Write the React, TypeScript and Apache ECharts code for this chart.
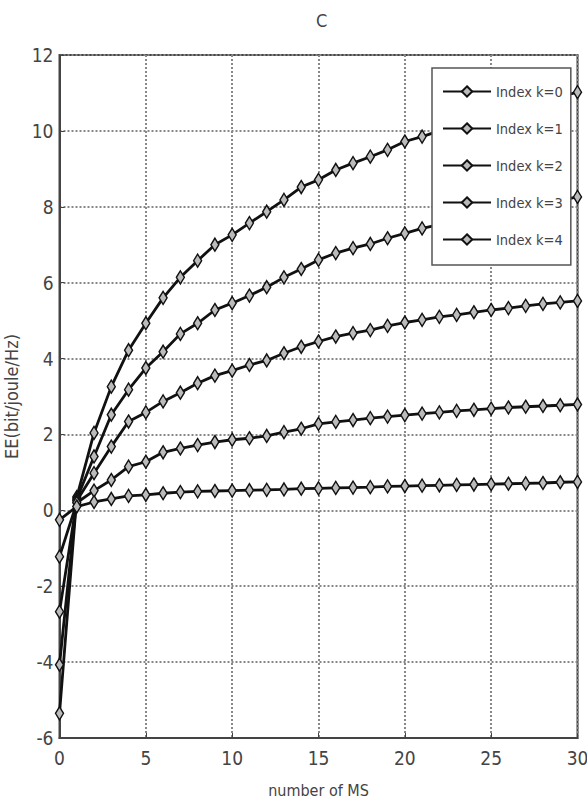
import React, { useEffect, useRef } from "react";
import * as echarts from "echarts";

const xValues = [0,1,2,3,4,5,6,7,8,9,10,11,12,13,14,15,16,17,18,19,20,21,22,23,24,25,26,27,28,29,30];
const seriesNames = ["Index k=0", "Index k=1", "Index k=2", "Index k=3", "Index k=4"];
const k0 = [-5.35,0.35,2.04,3.26,4.22,4.93,5.6,6.14,6.58,7.0,7.26,7.57,7.87,8.18,8.52,8.71,8.97,9.15,9.32,9.5,9.72,9.85,10.0,10.13,10.27,10.4,10.52,10.65,10.77,10.9,11.02];
const k1 = [-4.07,0.3,1.42,2.52,3.18,3.75,4.18,4.65,4.93,5.28,5.46,5.66,5.88,6.14,6.36,6.6,6.78,6.91,7.02,7.17,7.3,7.43,7.53,7.63,7.72,7.81,7.9,7.99,8.08,8.17,8.26];
const k2 = [-2.67,0.25,0.98,1.68,2.34,2.58,2.87,3.1,3.35,3.55,3.68,3.83,3.95,4.14,4.31,4.45,4.58,4.67,4.75,4.86,4.95,5.02,5.1,5.15,5.22,5.28,5.33,5.39,5.44,5.48,5.52];
const k3 = [-1.22,0.2,0.52,0.8,1.15,1.28,1.53,1.63,1.72,1.8,1.86,1.9,1.96,2.06,2.15,2.28,2.33,2.38,2.43,2.47,2.51,2.55,2.58,2.62,2.65,2.68,2.71,2.73,2.75,2.77,2.79];
const k4 = [-0.25,0.1,0.22,0.3,0.38,0.41,0.45,0.48,0.5,0.51,0.52,0.53,0.54,0.55,0.57,0.58,0.59,0.6,0.61,0.63,0.64,0.65,0.66,0.67,0.68,0.69,0.7,0.71,0.72,0.74,0.75];
const allSeries = [k0, k1, k2, k3, k4];

const FONT = "'Liberation Sans Narrow', 'DejaVu Sans Condensed', 'Liberation Sans', sans-serif";

export default function App() {
  const ref = useRef<HTMLDivElement>(null);
  useEffect(() => {
    if (!ref.current) return;
    const chart = echarts.init(ref.current, null, { renderer: "svg" });
    chart.setOption({
      animation: false,
      backgroundColor: "#fff",
      title: {
        text: "C",
        left: 311,
        top: 6,
        textStyle: { fontFamily: FONT, fontSize: 18, fontWeight: "normal", color: "#444" },
      },
      grid: {
        left: 59.5,
        right: 9.5,
        top: 55,
        bottom: 71,
        containLabel: false,
        outerBoundsMode: "none",
        show: true,
        borderColor: "#444",
        borderWidth: 2,
        backgroundColor: "#fff",
      },
      legend: {
        orient: "vertical",
        left: 432,
        top: 68,
        itemWidth: 48,
        itemHeight: 13,
        itemGap: 22,
        padding: [16, 8, 18, 10],
        backgroundColor: "#fff",
        borderColor: "#555",
        borderWidth: 1.5,
        borderRadius: 0,
        textStyle: { fontFamily: FONT, fontSize: 14.5, color: "#444", lineHeight: 15 },
        data: seriesNames,
        z: 10,
      },
      xAxis: {
        type: "value",
        min: 0,
        max: 30,
        interval: 5,
        name: "number of MS",
        nameLocation: "middle",
        nameGap: 44,
        nameTextStyle: { fontFamily: FONT, fontSize: 16, color: "#444" },
        axisLine: { show: true, onZero: false, lineStyle: { color: "#444", width: 2 } },
        axisTick: { show: true, inside: true, length: 5, lineStyle: { color: "#444" } },
        axisLabel: { fontFamily: FONT, fontSize: 19, color: "#444", margin: 10 },
        splitLine: { show: true, lineStyle: { type: "dotted", color: "#888", width: 2 } },
      },
      yAxis: {
        type: "value",
        min: -6,
        max: 12,
        interval: 2,
        name: "EE(bit/joule/Hz)",
        nameLocation: "middle",
        nameGap: 30,
        nameTextStyle: { fontFamily: FONT, fontSize: 18, color: "#444" },
        axisLine: { show: true, onZero: false, lineStyle: { color: "#444", width: 2 } },
        axisTick: { show: true, inside: true, length: 5, lineStyle: { color: "#444" } },
        axisLabel: { fontFamily: FONT, fontSize: 19, color: "#444", margin: 6 },
        splitLine: { show: true, lineStyle: { type: "dotted", color: "#888", width: 2 } },
      },
      series: allSeries.map((vals, i) => ({
        name: seriesNames[i],
        type: "line",
        data: vals.map((v, j) => [xValues[j], v]),
        symbol: "diamond",
        symbolSize: [8, 13],
        showAllSymbol: true,
        clip: false,
        lineStyle: { color: "#111", width: 2.8 },
        itemStyle: { color: "#bbb", borderColor: "#111", borderWidth: 1.5 },
        z: 2,
      })),
    });
    return () => chart.dispose();
  }, []);
  return <div ref={ref} style={{ position: "fixed", left: 0, top: 0, width: 587, height: 809 }} />;
}
